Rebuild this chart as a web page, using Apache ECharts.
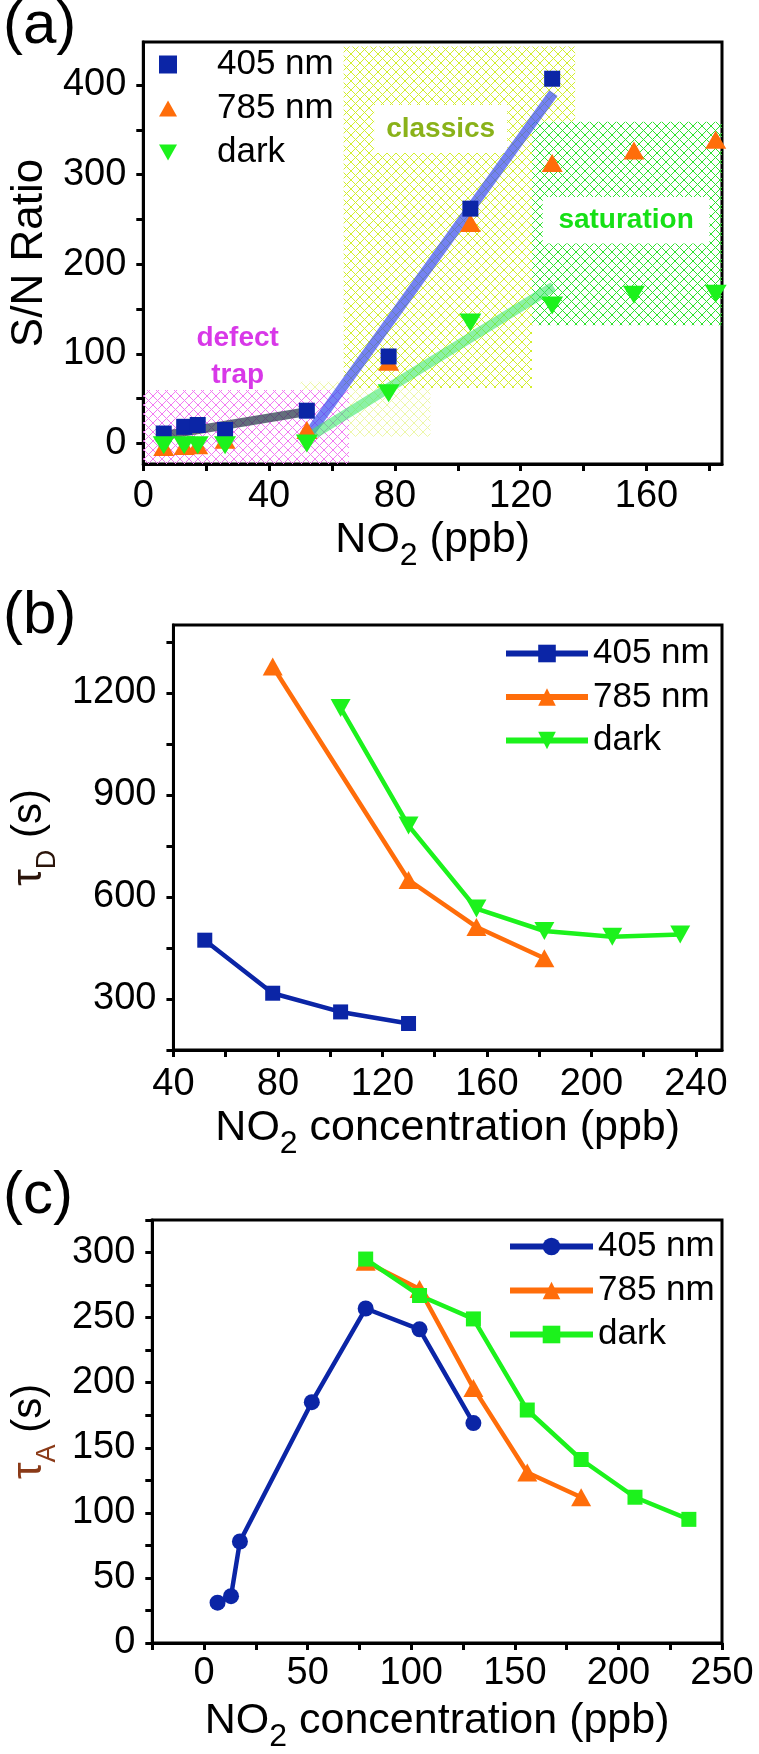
<!DOCTYPE html>
<html>
<head>
<meta charset="utf-8">
<script src="https://cdn.jsdelivr.net/npm/echarts@6.0.0/dist/echarts.min.js"></script>
<style>
html,body{margin:0;padding:0;background:#ffffff;}
#chart{width:759px;height:1754px;}
</style>
</head>
<body>
<div id="chart"></div>
<script>
// ===== Panel (a): S/N ratio vs NO2 =====
const concA = [6.5, 13, 17.3, 26, 52, 78, 104, 130, 156, 182];
const snr405 = [11, 18.5, 20.5, 15, 36.5, 97, 262, 407];
const snr785 = [-4, -3, -2, 4, 15, 91, 246, 313, 327, 339];
const snrDark = [-2, -2, -2, -2, 0, 56, 135, 154, 166, 167];
const fitDefect = [[6.5, 9], [52, 35.5]];
const fit405 = [[52.8, 11], [130.4, 391]];
const fitDark = [[52.8, 7.5], [130.4, 175]];
const regionTransit = [[50, 7.4], [91.3, 68.8]];
const regionDefect = [[0, -23], [65.4, 59.5]];
const regionClassics = [[63.7, 61.7], [123.6, 443]];
const regionClassicsTop = [[123.6, 359], [137.3, 443]];
const regionSaturation = [[123.6, 132], [184, 359]];
const boxClassics = [[73.4, 324], [115.7, 377.6]];
const boxSaturation = [[127, 223], [180, 275]];
const boxDefect = [[12, 76], [48, 118]];
const ticksAx = [0, 20, 40, 60, 80, 100, 120, 140, 160, 180];
const labelsAx = [0, 40, 80, 120, 160];
const ticksAy = [0, 50, 100, 150, 200, 250, 300, 350, 400];
const labelsAy = [0, 100, 200, 300, 400];

// ===== Panel (b): tau_D =====
const concB405 = [52, 78, 104, 130];
const tauD405 = [473, 317, 262, 228];
const concB785 = [78, 130, 156, 182];
const tauD785 = [1278, 650, 512, 420];
const concBDark = [104, 130, 156, 182, 208, 234];
const tauDDark = [1156, 810, 566, 500, 483, 490];
const ticksBx = [40, 60, 80, 100, 120, 140, 160, 180, 200, 220, 240];
const labelsBx = [40, 80, 120, 160, 200, 240];
const ticksBy = [150, 300, 450, 600, 750, 900, 1050, 1200, 1350];
const labelsBy = [300, 600, 900, 1200];

// ===== Panel (c): tau_A =====
const concC405 = [6.5, 13, 17.3, 52, 78, 104, 130];
const tauA405 = [31, 36, 78, 185, 257, 241, 169];
const concC785 = [78, 104, 130, 156, 182];
const tauA785 = [293, 272, 196, 131, 112];
const concCDark = [78, 104, 130, 156, 182, 208, 234];
const tauADark = [295, 267, 249, 179, 141, 112, 95];
const ticksCx = [-25, 0, 25, 50, 75, 100, 125, 150, 175, 200, 225, 250];
const labelsCx = [0, 50, 100, 150, 200, 250];
const ticksCy = [0, 25, 50, 75, 100, 125, 150, 175, 200, 225, 250, 275, 300, 325];
const labelsCy = [0, 50, 100, 150, 200, 250, 300];

const legendNames = {
  a405: '405 nm', a785: '785 nm', aDark: 'dark',
  b405: '405 nm', b785: '785 nm', bDark: 'dark',
  c405: '405 nm', c785: '785 nm', cDark: 'dark'
};

// ===== styling =====
const FONT = '"Liberation Sans", Arial, sans-serif';
const BLUE = '#0b25a6', ORANGE = '#ff6d0a', GREEN = '#1cf21c';
const TICK_FONT = 38;

function pts(xs, ys) { return ys.map((y, i) => [xs[i], y]); }

function hatch(color, s, lw) {
  const c = document.createElement('canvas');
  c.width = s; c.height = s;
  const g = c.getContext('2d');
  g.strokeStyle = color; g.lineWidth = lw;
  g.beginPath();
  g.moveTo(-1, -1); g.lineTo(s + 1, s + 1);
  g.moveTo(-1, s + 1); g.lineTo(s + 1, -1);
  g.stroke();
  return { image: c, repeat: 'repeat' };
}

function rect(r, extra) {
  return [Object.assign({ coord: r[0] }, extra || {}), { coord: r[1] }];
}

const subName = (rest) => '{m|NO}{s|2}{m|' + rest + '}';
const xNameRich = {
  m: { fontSize: 43, lineHeight: 43, verticalAlign: 'top', fontFamily: FONT, color: '#000' },
  s: { fontSize: 32, lineHeight: 32, padding: [21, 0, 0, 0], verticalAlign: 'top', fontFamily: FONT, color: '#000' }
};
function tauRich(col) {
  return {
    t: { fontSize: 42, lineHeight: 42, verticalAlign: 'top', fontFamily: FONT, color: col },
    d: { fontSize: 27, lineHeight: 27, padding: [26, 0, 0, 0], verticalAlign: 'top', fontFamily: FONT, color: col },
    n: { fontSize: 42, lineHeight: 42, verticalAlign: 'top', fontFamily: FONT, color: '#000' }
  };
}

const tickLabel = (margin, labels) => ({
  show: true, margin, fontSize: TICK_FONT, fontFamily: FONT, color: '#000', customValues: labels,
  formatter: (v) => '{v|' + v + '}',
  rich: { v: { fontSize: TICK_FONT, lineHeight: TICK_FONT, fontFamily: FONT, color: '#000' } }
});

function xAxis(gi, min, max, ticks, labels, name, gap, margin) {
  return {
    type: 'value', gridIndex: gi, min, max, position: 'bottom',
    axisLine: { show: true, onZero: false, lineStyle: { color: '#000', width: 3 } },
    axisTick: { show: true, inside: false, length: 7, lineStyle: { color: '#000', width: 3 }, customValues: ticks },
    axisLabel: tickLabel(margin, labels),
    splitLine: { show: false },
    name, nameLocation: 'middle', nameGap: gap,
    nameTextStyle: { rich: xNameRich }
  };
}
function yAxis(gi, min, max, ticks, labels, name, gap, nts) {
  return {
    type: 'value', gridIndex: gi, min, max, position: 'left',
    axisLine: { show: true, onZero: false, lineStyle: { color: '#000', width: 3 } },
    axisTick: { show: true, inside: false, length: 7, lineStyle: { color: '#000', width: 3 }, customValues: ticks },
    axisLabel: tickLabel(17, labels),
    splitLine: { show: false },
    name, nameLocation: 'middle', nameGap: gap, nameTextStyle: nts
  };
}

const gridBase = { left: 142, width: 580, show: true, borderColor: '#000', borderWidth: 3, backgroundColor: 'transparent' };

const legendBase = {
  orient: 'vertical', padding: 0, selectedMode: false, symbolKeepAspect: true,
  textStyle: { fontSize: 35, fontFamily: FONT, color: '#000' }
};

function lineSeries(name, xi, data, color, symbol, size, rot) {
  return {
    name, type: 'line', xAxisIndex: xi, yAxisIndex: xi, data,
    symbol, symbolSize: size, symbolRotate: rot || 0, showSymbol: true,
    lineStyle: { color, width: 4.5 }, itemStyle: { color }, z: 4, silent: true
  };
}

const option = {
  animation: false,
  backgroundColor: '#ffffff',
  textStyle: { fontFamily: FONT },
  grid: [
    Object.assign({ top: 42, height: 422 }, gridBase),
    Object.assign({ top: 625, height: 425 }, gridBase),
    Object.assign({ top: 1220, height: 427 }, gridBase)
  ],
  xAxis: [
    xAxis(0, 0, 184, ticksAx, labelsAx, subName(' (ppb)'), 55, 14),
    xAxis(1, 40, 250, ticksBx, labelsBx, subName(' concentration (ppb)'), 57, 16),
    xAxis(2, -25, 250, ticksCx, labelsCx, subName(' concentration (ppb)'), 57, 12)
  ],
  yAxis: [
    yAxis(0, -23, 448, ticksAy, labelsAy, 'S/N Ratio', 82, { fontSize: 44, fontFamily: FONT, color: '#000' }),
    yAxis(1, 150, 1400, ticksBy, labelsBy, '{t|τ}{d|D}{n| (s)}', 88, { rich: tauRich('#2a140a') }),
    yAxis(2, 0, 325, ticksCy, labelsCy, '{t|τ}{d|A}{n| (s)}', 90, { rich: tauRich('#8a3a18') })
  ],
  legend: [
    Object.assign({}, legendBase, {
      data: [
        { name: 'a405', icon: 'path://M0,0H10V10H0Z' },
        { name: 'a785', icon: 'path://M5,0L10,9L0,9Z' },
        { name: 'aDark', icon: 'path://M0,0L10,0L5,9Z' }
      ],
      formatter: (n) => '{g|}' + legendNames[n],
      textStyle: { fontSize: 35, fontFamily: FONT, color: '#000', rich: { g: { width: 35, fontSize: 35 } } },
      left: 159, top: 47, itemWidth: 18, itemHeight: 18, itemGap: 9
    }),
    Object.assign({}, legendBase, {
      data: ['b405', 'b785', 'bDark'],
      formatter: (n) => legendNames[n],
      left: 503, top: 636, itemWidth: 82, itemHeight: 22, itemGap: 8.5,
      lineStyle: { width: 6 }
    }),
    Object.assign({}, legendBase, {
      data: ['c405', 'c785', 'cDark'],
      formatter: (n) => legendNames[n],
      left: 507, top: 1229, itemWidth: 83, itemHeight: 22, itemGap: 9,
      lineStyle: { width: 6 }
    })
  ],
  graphic: [
    { type: 'text', left: 3, top: -4, style: { text: '(a)', fontSize: 60, fontFamily: FONT, fill: '#000' } },
    { type: 'text', left: 3, top: 586, style: { text: '(b)', fontSize: 60, fontFamily: FONT, fill: '#000' } },
    { type: 'text', left: 3, top: 1166, style: { text: '(c)', fontSize: 60, fontFamily: FONT, fill: '#000' } }
  ],
  series: [
    // hatched regions
    {
      type: 'line', xAxisIndex: 0, yAxisIndex: 0, data: [], z: 1, silent: true,
      markArea: {
        silent: true,
        data: [
          rect(regionTransit, { itemStyle: { color: hatch('#edf7a8', 9, 1) } }),
          rect(regionDefect, { itemStyle: { color: hatch('#f27af2', 9, 1) } }),
          rect(regionClassics, { itemStyle: { color: hatch('#d2ee2c', 9, 1) } }),
          rect(regionClassicsTop, { itemStyle: { color: hatch('#d2ee2c', 9, 1) } }),
          rect(regionSaturation, { itemStyle: { color: hatch('#2ee22e', 9, 1) } })
        ]
      }
    },
    // label boxes
    {
      type: 'line', xAxisIndex: 0, yAxisIndex: 0, data: [], z: 2, silent: true,
      markArea: {
        silent: true,
        data: [
          rect(boxClassics, { name: 'classics', itemStyle: { color: '#ffffff' },
            label: { show: true, position: 'inside', fontSize: 28, fontWeight: 'bold', fontFamily: FONT, color: '#8ab21a' } }),
          rect(boxSaturation, { name: 'saturation', itemStyle: { color: '#ffffff' },
            label: { show: true, position: 'inside', fontSize: 28, fontWeight: 'bold', fontFamily: FONT, color: '#16e016' } }),
          rect(boxDefect, { name: 'defect\ntrap', itemStyle: { color: 'rgba(0,0,0,0)' },
            label: { show: true, position: 'inside', fontSize: 28, lineHeight: 37, fontWeight: 'bold', fontFamily: FONT, color: '#d838e8' } })
        ]
      }
    },
    // fit lines
    { type: 'line', xAxisIndex: 0, yAxisIndex: 0, data: fitDefect, symbol: 'none', z: 3, silent: true,
      lineStyle: { color: '#2f3f50', width: 9, opacity: 0.75 } },
    { type: 'line', xAxisIndex: 0, yAxisIndex: 0, data: fit405, symbol: 'none', z: 3, silent: true,
      lineStyle: { color: '#3f52ee', width: 10, opacity: 0.72 } },
    { type: 'line', xAxisIndex: 0, yAxisIndex: 0, data: fitDark, symbol: 'none', z: 3, silent: true,
      lineStyle: { color: '#3de86c', width: 10, opacity: 0.6 } },
    // panel (a) markers
    { name: 'a785', type: 'scatter', xAxisIndex: 0, yAxisIndex: 0, data: pts(concA, snr785),
      symbol: 'triangle', symbolSize: [21, 18], itemStyle: { color: ORANGE, opacity: 1 }, z: 4, silent: true },
    { name: 'a405', type: 'scatter', xAxisIndex: 0, yAxisIndex: 0, data: pts(concA, snr405),
      symbol: 'rect', symbolSize: 16, itemStyle: { color: BLUE, opacity: 1 }, z: 4, silent: true },
    { name: 'aDark', type: 'scatter', xAxisIndex: 0, yAxisIndex: 0, data: pts(concA, snrDark),
      symbol: 'triangle', symbolRotate: 180, symbolSize: [22, 18], itemStyle: { color: GREEN, opacity: 1 }, z: 5, silent: true },
    // panel (b)
    lineSeries('b405', 1, pts(concB405, tauD405), BLUE, 'rect', 15),
    lineSeries('b785', 1, pts(concB785, tauD785), ORANGE, 'triangle', [20, 18]),
    lineSeries('bDark', 1, pts(concBDark, tauDDark), GREEN, 'triangle', [20, 18], 180),
    // panel (c)
    lineSeries('c405', 2, pts(concC405, tauA405), BLUE, 'circle', 16),
    lineSeries('c785', 2, pts(concC785, tauA785), ORANGE, 'triangle', [20, 18]),
    lineSeries('cDark', 2, pts(concCDark, tauADark), GREEN, 'rect', 15)
  ]
};

const chart = echarts.init(document.getElementById('chart'), null, { renderer: 'canvas' });
chart.setOption(option);
</script>
</body>
</html>
